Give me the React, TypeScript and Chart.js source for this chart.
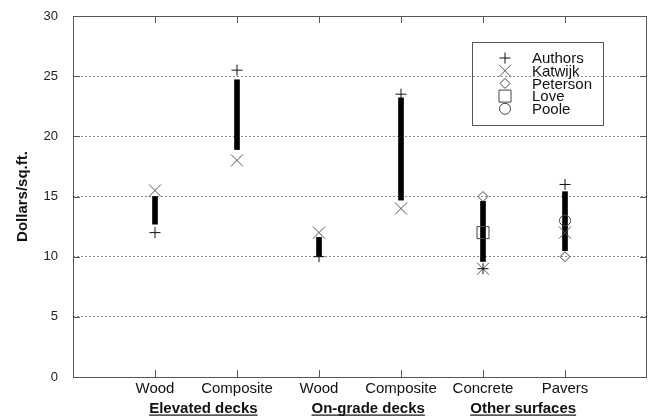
import React, { useEffect, useRef } from "react";
import { Chart, registerables } from "chart.js";
import { drawPoint } from "chart.js/helpers";

Chart.register(...registerables);

const categories = ["Wood", "Composite", "Wood", "Composite", "Concrete", "Pavers"];
const xPositions = [1, 2, 3, 4, 5, 6];
const groupLabels = ["Elevated decks", "On-grade decks", "Other surfaces"];
const groupCenters = [1.59, 3.6, 5.49];
const yTicks = [0, 5, 10, 15, 20, 25, 30];

const barLow = [12.7, 18.9, 10.0, 14.7, 9.6, 10.5];
const barHigh = [15.0, 24.7, 11.6, 23.2, 14.6, 15.4];

const authors = [12, 25.5, 10, 23.5, 9, 16];
const katwijk = [15.5, 18, 12, 14, 9, 12];
const peterson = [null, null, null, null, 15, 10];
const love = [null, null, null, null, 12, null];
const poole = [null, null, null, null, null, 13];

const seriesNames = ["Authors", "Katwijk", "Peterson", "Love", "Poole"];
const seriesValues = [authors, katwijk, peterson, love, poole];
const seriesStyles = ["cross", "crossRot", "rectRot", "rect", "circle"];
const seriesRadius = [5.5, 8.5, 5, 8.5, 5.5];
const seriesColors = ["#111", "#555", "#444", "#444", "#444"];

const toPoints = (vals: (number | null)[]) =>
  xPositions
    .map((x, i) => ({ x, y: vals[i] }))
    .filter((p) => p.y !== null) as { x: number; y: number }[];

const framePlugin = {
  id: "frame",
  beforeDatasetsDraw(chart: any) {
    const { ctx, chartArea } = chart;
    const xs = chart.scales.x;
    const ys = chart.scales.y;
    ctx.save();
    ctx.strokeStyle = "#555";
    ctx.lineWidth = 1;
    ctx.setLineDash([]);
    ctx.strokeRect(
      Math.round(chartArea.left) + 0.5,
      Math.round(chartArea.top) + 0.5,
      Math.round(chartArea.right - chartArea.left) - 1,
      Math.round(chartArea.bottom - chartArea.top)
    );
    ctx.beginPath();
    xPositions.forEach((v) => {
      const px = Math.round(xs.getPixelForValue(v)) + 0.5;
      ctx.moveTo(px, chartArea.bottom);
      ctx.lineTo(px, chartArea.bottom - 7);
      ctx.moveTo(px, chartArea.top);
      ctx.lineTo(px, chartArea.top + 7);
    });
    yTicks.forEach((v) => {
      const py = Math.round(ys.getPixelForValue(v)) + 0.5;
      ctx.moveTo(chartArea.left, py);
      ctx.lineTo(chartArea.left + 7, py);
      ctx.moveTo(chartArea.right, py);
      ctx.lineTo(chartArea.right - 7, py);
    });
    ctx.stroke();
    ctx.restore();
  },
  afterDraw(chart: any) {
    const { ctx } = chart;
    const xs = chart.scales.x;
    ctx.save();
    // group labels
    ctx.font = "bold 15px 'Liberation Sans', Arial, sans-serif";
    ctx.fillStyle = "#111";
    ctx.textAlign = "center";
    ctx.textBaseline = "alphabetic";
    groupLabels.forEach((lab, i) => {
      const cx = xs.getPixelForValue(groupCenters[i]);
      const w = ctx.measureText(lab).width;
      ctx.fillText(lab, cx, 413);
      ctx.fillRect(cx - w / 2, 414.5, w, 1.2);
    });
    // legend
    const bx = 472, by = 42, bw = 131, bh = 83;
    ctx.strokeStyle = "#555";
    ctx.lineWidth = 1;
    ctx.strokeRect(bx + 0.5, by + 0.5, bw, bh);
    ctx.font = "15px 'Liberation Sans', Arial, sans-serif";
    ctx.textAlign = "left";
    ctx.textBaseline = "middle";
    seriesNames.forEach((name, i) => {
      const y = 58 + i * 12.7;
      ctx.strokeStyle = seriesColors[i];
      ctx.fillStyle = "rgba(0,0,0,0)";
      ctx.lineWidth = 1;
      drawPoint(ctx, { pointStyle: seriesStyles[i], radius: seriesRadius[i], rotation: 0, borderWidth: 1 } as any, 505, y);
      ctx.fillStyle = "#111";
      ctx.fillText(name, 532, y + 1);
    });
    ctx.restore();
  },
};

export default function App() {
  const ref = useRef<HTMLCanvasElement>(null);
  useEffect(() => {
    document.body.style.margin = "0";
    const canvas = ref.current!;
    const datasets: any[] = [
      {
        type: "bar",
        label: "range",
        data: xPositions.map((x, i) => ({ x, y: [barLow[i], barHigh[i]] })),
        backgroundColor: "#000",
        borderWidth: 0,
        barThickness: 5,
        order: 2,
      },
      ...seriesNames.map((name, i) => ({
        type: "scatter",
        label: name,
        data: toPoints(seriesValues[i]),
        pointStyle: seriesStyles[i],
        pointRadius: seriesRadius[i],
        pointBorderWidth: 1,
        borderColor: seriesColors[i],
        backgroundColor: "rgba(0,0,0,0)",
        showLine: false,
        clip: false,
        order: 1,
      })),
    ];
    const chart = new Chart(canvas, {
      type: "bar",
      data: { datasets },
      options: {
        animation: false,
        responsive: false,
        maintainAspectRatio: false,
        layout: { autoPadding: false, padding: { left: 0, top: 16, right: 4, bottom: 0 } },
        plugins: { legend: { display: false }, tooltip: { enabled: false } },
        scales: {
          x: {
            type: "linear",
            min: 0,
            max: 7,
            offset: false,
            grid: { display: false, drawTicks: false },
            border: { display: false },
            afterBuildTicks: (scale: any) => {
              scale.ticks = xPositions.map((v) => ({ value: v }));
            },
            afterFit: (scale: any) => {
              scale.height = 40;
              scale.paddingLeft = 0;
              scale.paddingRight = 0;
            },
            ticks: {
              autoSkip: false,
              maxRotation: 0,
              padding: 3,
              color: "#111",
              font: { size: 15, family: "'Liberation Sans', Arial, sans-serif" },
              callback: (v: any) => categories[xPositions.indexOf(Number(v))] ?? "",
            },
          },
          y: {
            type: "linear",
            min: 0,
            max: 30,
            grid: { display: true, color: "#8a8a8a", lineWidth: 1, drawTicks: false },
            border: { display: false, dash: [2, 2] },
            afterBuildTicks: (scale: any) => {
              scale.ticks = yTicks.map((v) => ({ value: v }));
            },
            afterFit: (scale: any) => {
              scale.width = 73;
              scale.paddingTop = 0;
              scale.paddingBottom = 0;
            },
            ticks: {
              padding: 15,
              color: "#222",
              font: { size: 13, family: "'Liberation Sans', Arial, sans-serif" },
            },
            title: {
              display: true,
              text: "Dollars/sq.ft.",
              color: "#111",
              font: { size: 15, weight: "bold", family: "'Liberation Sans', Arial, sans-serif" },
              padding: { top: 14, bottom: 0 },
            },
          },
        },
      },
      plugins: [framePlugin],
    } as any);
    return () => chart.destroy();
  }, []);
  return (
    <div style={{ width: 651, height: 417 }}>
      <canvas ref={ref} width={651} height={417} />
    </div>
  );
}
